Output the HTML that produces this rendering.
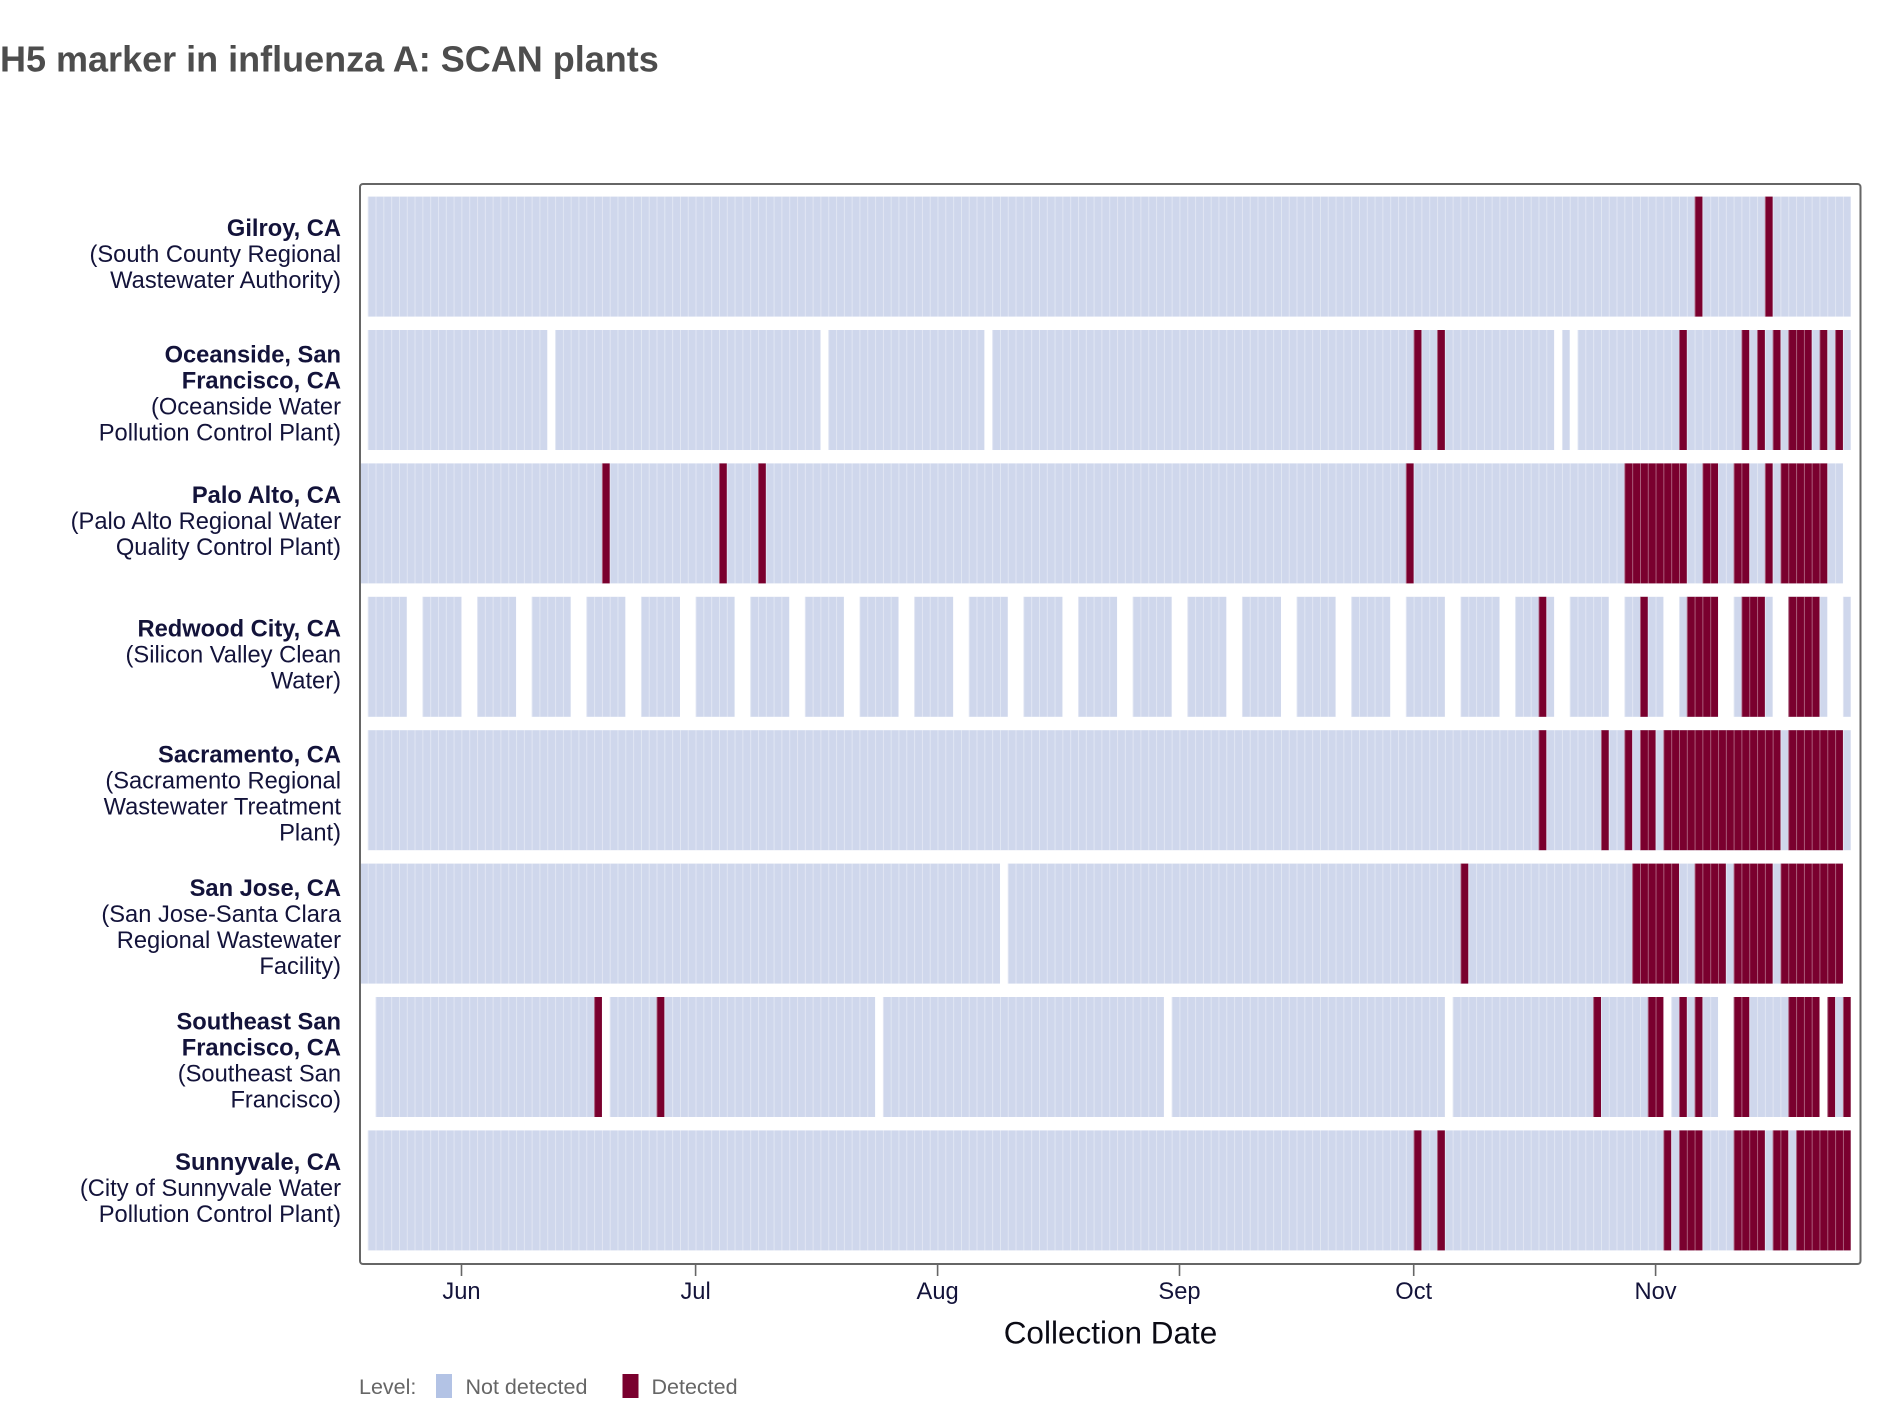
<!DOCTYPE html>
<html>
<head>
<meta charset="utf-8">
<style>
  html,body{margin:0;padding:0;background:#fff;}
  svg{display:block;}
  .lab{font-family:"Liberation Sans",Arial,sans-serif;font-size:23.7px;fill:#13133a;}
  .b{font-weight:bold;}
  .L{fill:#cfd7ec;}
  .D{fill:#7a002e;}
</style>
</head>
<body>
<svg width="1902" height="1414" viewBox="0 0 1902 1414" xmlns="http://www.w3.org/2000/svg">
  <defs>
    <pattern id="sep" patternUnits="userSpaceOnUse" x="360" y="0" width="7.805" height="1414">
      <rect x="0" y="0" width="0.8" height="1414" fill="#ffffff" fill-opacity="0.45"/>
    </pattern>
  </defs>
  <rect x="0" y="0" width="1902" height="1414" fill="#fff"/>

  <!-- Title -->
  <text x="0" y="71.7" font-family="Liberation Sans, Arial, sans-serif" font-size="36" font-weight="bold" fill="#4d4d4d">H5 marker in influenza A: SCAN plants</text>

  <!-- Tiles -->
  <g transform="translate(360,0) scale(7.805,1)">
    <!-- Row 1 Gilroy -->
    <g transform="translate(0,196.6)">
      <rect class="L" x="1" y="0" width="190" height="120"/>
      <rect class="D" x="171" y="0" width="1" height="120"/>
      <rect class="D" x="180" y="0" width="1" height="120"/>
    </g>
    <!-- Row 2 Oceanside -->
    <g transform="translate(0,330)">
      <rect class="L" x="1" y="0" width="23" height="120"/>
      <rect class="L" x="25" y="0" width="34" height="120"/>
      <rect class="L" x="60" y="0" width="20" height="120"/>
      <rect class="L" x="81" y="0" width="72" height="120"/>
      <rect class="L" x="154" y="0" width="1" height="120"/>
      <rect class="L" x="156" y="0" width="35" height="120"/>
      <rect class="D" x="135" y="0" width="1" height="120"/>
      <rect class="D" x="138" y="0" width="1" height="120"/>
      <rect class="D" x="169" y="0" width="1" height="120"/>
      <rect class="D" x="177" y="0" width="1" height="120"/>
      <rect class="D" x="179" y="0" width="1" height="120"/>
      <rect class="D" x="181" y="0" width="1" height="120"/>
      <rect class="D" x="183" y="0" width="3" height="120"/>
      <rect class="D" x="187" y="0" width="1" height="120"/>
      <rect class="D" x="189" y="0" width="1" height="120"/>
    </g>
    <!-- Row 3 Palo Alto -->
    <g transform="translate(0,463.4)">
      <rect class="L" x="0" y="0" width="190" height="120"/>
      <rect class="D" x="31" y="0" width="1" height="120"/>
      <rect class="D" x="46" y="0" width="1" height="120"/>
      <rect class="D" x="51" y="0" width="1" height="120"/>
      <rect class="D" x="134" y="0" width="1" height="120"/>
      <rect class="D" x="162" y="0" width="8" height="120"/>
      <rect class="D" x="172" y="0" width="2" height="120"/>
      <rect class="D" x="176" y="0" width="2" height="120"/>
      <rect class="D" x="180" y="0" width="1" height="120"/>
      <rect class="D" x="182" y="0" width="6" height="120"/>
    </g>
    <!-- Row 4 Redwood City -->
    <g transform="translate(0,596.8)">
      <rect class="L" x="1" y="0" width="5" height="120"/>
      <rect class="L" x="8" y="0" width="5" height="120"/>
      <rect class="L" x="15" y="0" width="5" height="120"/>
      <rect class="L" x="22" y="0" width="5" height="120"/>
      <rect class="L" x="29" y="0" width="5" height="120"/>
      <rect class="L" x="36" y="0" width="5" height="120"/>
      <rect class="L" x="43" y="0" width="5" height="120"/>
      <rect class="L" x="50" y="0" width="5" height="120"/>
      <rect class="L" x="57" y="0" width="5" height="120"/>
      <rect class="L" x="64" y="0" width="5" height="120"/>
      <rect class="L" x="71" y="0" width="5" height="120"/>
      <rect class="L" x="78" y="0" width="5" height="120"/>
      <rect class="L" x="85" y="0" width="5" height="120"/>
      <rect class="L" x="92" y="0" width="5" height="120"/>
      <rect class="L" x="99" y="0" width="5" height="120"/>
      <rect class="L" x="106" y="0" width="5" height="120"/>
      <rect class="L" x="113" y="0" width="5" height="120"/>
      <rect class="L" x="120" y="0" width="5" height="120"/>
      <rect class="L" x="127" y="0" width="5" height="120"/>
      <rect class="L" x="134" y="0" width="5" height="120"/>
      <rect class="L" x="141" y="0" width="5" height="120"/>
      <rect class="L" x="148" y="0" width="5" height="120"/>
      <rect class="L" x="155" y="0" width="5" height="120"/>
      <rect class="L" x="162" y="0" width="5" height="120"/>
      <rect class="L" x="169" y="0" width="5" height="120"/>
      <rect class="L" x="176" y="0" width="5" height="120"/>
      <rect class="L" x="183" y="0" width="5" height="120"/>
      <rect class="L" x="190" y="0" width="1" height="120"/>
      <rect class="D" x="151" y="0" width="1" height="120"/>
      <rect class="D" x="164" y="0" width="1" height="120"/>
      <rect class="D" x="170" y="0" width="4" height="120"/>
      <rect class="D" x="177" y="0" width="3" height="120"/>
      <rect class="D" x="183" y="0" width="4" height="120"/>
    </g>
    <!-- Row 5 Sacramento -->
    <g transform="translate(0,730.2)">
      <rect class="L" x="1" y="0" width="190" height="120"/>
      <rect class="D" x="151" y="0" width="1" height="120"/>
      <rect class="D" x="159" y="0" width="1" height="120"/>
      <rect class="D" x="162" y="0" width="1" height="120"/>
      <rect class="D" x="164" y="0" width="2" height="120"/>
      <rect class="D" x="167" y="0" width="15" height="120"/>
      <rect class="D" x="183" y="0" width="7" height="120"/>
    </g>
    <!-- Row 6 San Jose -->
    <g transform="translate(0,863.6)">
      <rect class="L" x="0" y="0" width="82" height="120"/>
      <rect class="L" x="83" y="0" width="107" height="120"/>
      <rect class="D" x="141" y="0" width="1" height="120"/>
      <rect class="D" x="163" y="0" width="6" height="120"/>
      <rect class="D" x="171" y="0" width="4" height="120"/>
      <rect class="D" x="176" y="0" width="5" height="120"/>
      <rect class="D" x="182" y="0" width="8" height="120"/>
    </g>
    <!-- Row 7 Southeast San Francisco -->
    <g transform="translate(0,997)">
      <rect class="L" x="2" y="0" width="29" height="120"/>
      <rect class="L" x="32" y="0" width="34" height="120"/>
      <rect class="L" x="67" y="0" width="36" height="120"/>
      <rect class="L" x="104" y="0" width="35" height="120"/>
      <rect class="L" x="140" y="0" width="27" height="120"/>
      <rect class="L" x="168" y="0" width="6" height="120"/>
      <rect class="L" x="176" y="0" width="11" height="120"/>
      <rect class="L" x="188" y="0" width="3" height="120"/>
      <rect class="D" x="30" y="0" width="1" height="120"/>
      <rect class="D" x="38" y="0" width="1" height="120"/>
      <rect class="D" x="158" y="0" width="1" height="120"/>
      <rect class="D" x="165" y="0" width="2" height="120"/>
      <rect class="D" x="169" y="0" width="1" height="120"/>
      <rect class="D" x="171" y="0" width="1" height="120"/>
      <rect class="D" x="176" y="0" width="2" height="120"/>
      <rect class="D" x="183" y="0" width="4" height="120"/>
      <rect class="D" x="188" y="0" width="1" height="120"/>
      <rect class="D" x="190" y="0" width="1" height="120"/>
    </g>
    <!-- Row 8 Sunnyvale -->
    <g transform="translate(0,1130.4)">
      <rect class="L" x="1" y="0" width="190" height="120"/>
      <rect class="D" x="135" y="0" width="1" height="120"/>
      <rect class="D" x="138" y="0" width="1" height="120"/>
      <rect class="D" x="167" y="0" width="1" height="120"/>
      <rect class="D" x="169" y="0" width="3" height="120"/>
      <rect class="D" x="176" y="0" width="4" height="120"/>
      <rect class="D" x="181" y="0" width="2" height="120"/>
      <rect class="D" x="184" y="0" width="7" height="120"/>
    </g>
  </g>

  <!-- tile separators (white lines, invisible on white gaps) -->
  <rect x="360" y="196.6" width="1491" height="120" fill="url(#sep)"/>
  <rect x="360" y="330" width="1491" height="120" fill="url(#sep)"/>
  <rect x="360" y="463.4" width="1491" height="120" fill="url(#sep)"/>
  <rect x="360" y="596.8" width="1491" height="120" fill="url(#sep)"/>
  <rect x="360" y="730.2" width="1491" height="120" fill="url(#sep)"/>
  <rect x="360" y="863.6" width="1491" height="120" fill="url(#sep)"/>
  <rect x="360" y="997" width="1491" height="120" fill="url(#sep)"/>
  <rect x="360" y="1130.4" width="1491" height="120" fill="url(#sep)"/>

  <!-- Panel border -->
  <rect x="360" y="184" width="1500.5" height="1080" rx="3" ry="3" fill="none" stroke="#666666" stroke-width="2"/>

  <!-- X ticks -->
  <path d="M461.5 1264v12 M695.6 1264v12 M937.6 1264v12 M1179.5 1264v12 M1413.7 1264v12 M1655.6 1264v12" stroke="#666666" stroke-width="1.6" fill="none"/>
  <g class="lab" text-anchor="middle">
    <text class="lab" x="461.5" y="1299">Jun</text>
    <text class="lab" x="695.6" y="1299">Jul</text>
    <text class="lab" x="937.6" y="1299">Aug</text>
    <text class="lab" x="1179.5" y="1299">Sep</text>
    <text class="lab" x="1413.7" y="1299">Oct</text>
    <text class="lab" x="1655.6" y="1299">Nov</text>
  </g>

  <!-- X axis title -->
  <text x="1110.5" y="1343.6" text-anchor="middle" font-family="Liberation Sans, Arial, sans-serif" font-size="31.5" fill="#0a0a14">Collection Date</text>

  <!-- Y labels -->
  <g text-anchor="end">
    <text class="lab b" x="341" y="236.1">Gilroy, CA</text>
    <text class="lab" x="341" y="262.1">(South County Regional</text>
    <text class="lab" x="341" y="288.1">Wastewater Authority)</text>

    <text class="lab b" x="341" y="362.5">Oceanside, San</text>
    <text class="lab b" x="341" y="388.5">Francisco, CA</text>
    <text class="lab" x="341" y="414.5">(Oceanside Water</text>
    <text class="lab" x="341" y="440.5">Pollution Control Plant)</text>

    <text class="lab b" x="341" y="502.9">Palo Alto, CA</text>
    <text class="lab" x="341" y="528.9">(Palo Alto Regional Water</text>
    <text class="lab" x="341" y="554.9">Quality Control Plant)</text>

    <text class="lab b" x="341" y="636.3">Redwood City, CA</text>
    <text class="lab" x="341" y="662.3">(Silicon Valley Clean</text>
    <text class="lab" x="341" y="688.3">Water)</text>

    <text class="lab b" x="341" y="762.7">Sacramento, CA</text>
    <text class="lab" x="341" y="788.7">(Sacramento Regional</text>
    <text class="lab" x="341" y="814.7">Wastewater Treatment</text>
    <text class="lab" x="341" y="840.7">Plant)</text>

    <text class="lab b" x="341" y="896.1">San Jose, CA</text>
    <text class="lab" x="341" y="922.1">(San Jose-Santa Clara</text>
    <text class="lab" x="341" y="948.1">Regional Wastewater</text>
    <text class="lab" x="341" y="974.1">Facility)</text>

    <text class="lab b" x="341" y="1029.5">Southeast San</text>
    <text class="lab b" x="341" y="1055.5">Francisco, CA</text>
    <text class="lab" x="341" y="1081.5">(Southeast San</text>
    <text class="lab" x="341" y="1107.5">Francisco)</text>

    <text class="lab b" x="341" y="1169.9">Sunnyvale, CA</text>
    <text class="lab" x="341" y="1195.9">(City of Sunnyvale Water</text>
    <text class="lab" x="341" y="1221.9">Pollution Control Plant)</text>
  </g>

  <!-- Legend -->
  <g font-family="Liberation Sans, Arial, sans-serif" font-size="21.5" fill="#666666">
    <text x="359" y="1394">Level:</text>
    <rect x="436" y="1374" width="16" height="24" fill="#b3c3e5"/>
    <text x="465.5" y="1394">Not detected</text>
    <rect x="622.5" y="1374" width="16" height="24" fill="#7a002e"/>
    <text x="651.5" y="1394">Detected</text>
  </g>
</svg>
</body>
</html>
